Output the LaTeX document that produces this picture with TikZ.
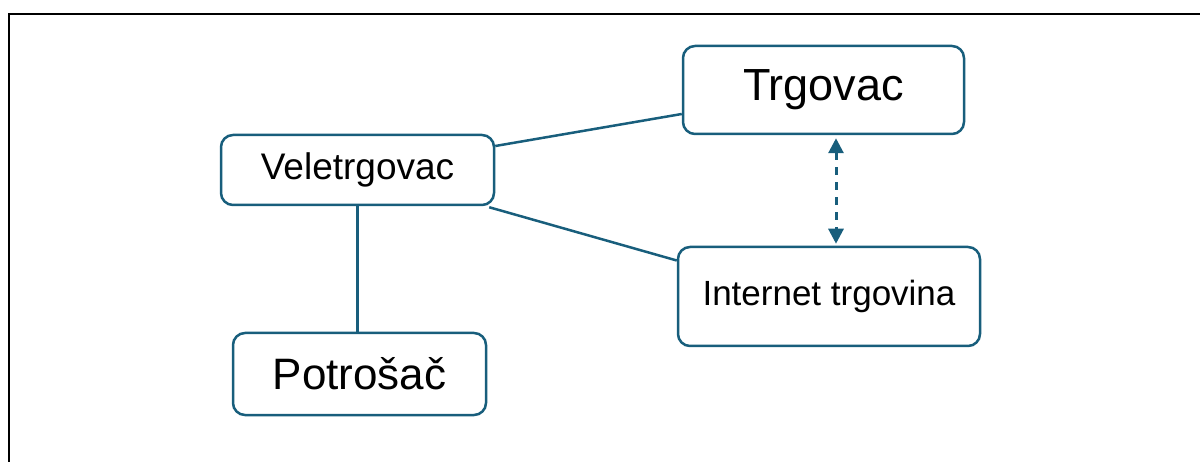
\documentclass[tikz,border=0pt]{standalone}
\usepackage{fontspec}
\setmainfont{Liberation Sans}
\usetikzlibrary{arrows.meta,calc}
\definecolor{boxblue}{RGB}{24,94,124}
\tikzset{
  box/.style={draw=boxblue, line width=2.5pt, rounded corners=12pt, fill=white,
              inner sep=0pt, anchor=center},
  link/.style={draw=boxblue, line width=2.5pt},
  dasharrow/.style={draw=boxblue, line width=3pt, dash pattern=on 8pt off 7pt,
              {Triangle[length=15pt,width=15pt]}-{Triangle[length=15pt,width=15pt]}}
}
\begin{document}
\begin{tikzpicture}[x=1pt,y=-1pt]
\useasboundingbox (0,0) rectangle (1200,462);
\draw[line width=2pt, black] (8.8,462) -- (8.8,14.3) -- (1200,14.3);
\node[box, minimum width=281pt, minimum height=88pt, font=\fontsize{45}{50}\selectfont] (trg) at (823.5,90) {Trgovac};
\node[box, minimum width=273pt, minimum height=70pt, font=\fontsize{37}{42}\selectfont] (vel) at (357.5,170) {Veletrgovac};
\node[box, minimum width=302pt, minimum height=99pt, font=\fontsize{35}{40}\selectfont] (int) at (829,296.5) {Internet trgovina};
\node[box, minimum width=253pt, minimum height=82pt, font=\fontsize{44}{48}\selectfont] (pot) at (359.5,374) {Potrošač};
\draw[link] ([yshift=24pt]vel.east) -- ([yshift=-24pt]trg.west);
\draw[link] ([xshift=-6pt,yshift=-1pt]vel.south east) -- ([yshift=36pt]int.west);
\draw[link] (vel.south) -- (vel.south |- pot.north);
\draw[dasharrow, shorten <=3pt, shorten >=2pt] ([xshift=12.5pt]trg.south) -- ([xshift=12.5pt]trg.south |- int.north);
\end{tikzpicture}
\end{document}
